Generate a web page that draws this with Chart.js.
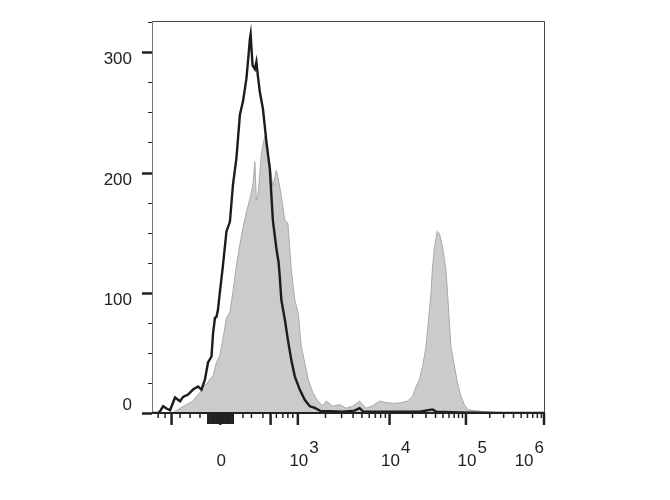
<!DOCTYPE html>
<html lang="en">
<head>
    <meta charset="utf-8">
    <title>Histogram</title>
    <script src="https://cdn.jsdelivr.net/npm/chart.js@4.4.0/dist/chart.umd.min.js"></script>
    <style>
        body { margin: 0; background: #fff; }
    </style>
</head>
<body>
    <canvas id="chart" width="670" height="500"></canvas>
    <script>
        // channels run 0..1024 along the x axis (biexponential display)
        const blackCh = [0, 16, 21, 29, 38, 47, 60, 73, 81, 94, 107, 120, 129, 138, 146, 155, 159, 164, 168, 172,
            177, 185, 194, 203, 211, 220, 229, 237, 246, 250, 255, 257, 262, 268, 272, 276, 281, 289, 298, 307,
            315, 324, 330, 333, 337, 346, 354, 363, 372, 385, 398, 411, 424, 441, 463, 497, 528, 541, 551, 593,
            645, 697, 731, 741, 801, 905, 1024];
        const blackCount = [0, 0, 1.5, 5.6, 3.7, 2.3, 12.9, 9.8, 13.4, 15.4, 19.5, 22, 19.5, 28, 42, 47, 66, 79, 80, 86,
            101, 123, 151, 159, 190, 212, 248, 259, 278, 292, 311, 315, 289, 286, 292, 280, 267, 253, 226, 203,
            160, 137, 125, 113, 94, 78, 61, 44, 30.5, 19.5, 11, 5.6, 4.3, 1.5, 1.5, 1, 2, 4, 1, 1,
            1, 1, 3, 1, 0.5, 0, 0];

        const grayCh = [0, 47, 60, 73, 90, 107, 116, 125, 133, 142, 151, 159, 168, 177, 185, 194, 203, 211, 220, 229,
            237, 246, 255, 263, 268, 272, 276, 281, 285, 289, 294, 298, 302, 307, 315, 324, 333, 341, 346, 354,
            363, 372, 381, 389, 398, 407, 419, 432, 445, 454, 471, 489, 506, 523, 541, 558, 575, 593, 611, 632,
            649, 666, 679, 688, 697, 705, 714, 718, 723, 727, 731, 736, 743, 749, 757, 766, 770, 775, 779, 788,
            796, 805, 814, 822, 840, 866, 892, 1024];
        const grayCount = [0, 0, 1, 4, 7, 10, 14, 17, 22, 24, 28, 31, 42, 48, 62, 79, 84, 101, 123, 140,
            154, 167, 178, 190, 209, 177, 180, 200, 216, 223, 230, 218, 212, 208, 188, 202, 188, 172, 160, 158,
            119, 94, 83, 55, 42, 28, 17, 10, 6, 10, 5.6, 7, 4, 5.6, 10, 4, 6, 10, 8.5, 8,
            8.5, 10, 14, 22, 28, 39, 55, 69, 86, 100, 122, 138, 151, 149, 138, 119, 100, 75, 55, 39,
            25, 14, 7, 3, 2, 1, 0.5, 0];

        const yMax = 326;
        const yTicks = [0, 100, 200, 300];
        const yMinorStep = 25;

        // labelled decades: 0, 10^3 .. 10^6
        const xLabelCh = [178, 380, 619, 818, 1024];
        const xLabelBase = ['0', '10', '10', '10', '10'];
        const xLabelExp = ['', '3', '4', '5', '6'];
        const xMajorCh = [51, 178, 309, 380, 619, 818, 1024];
        const xLinearMinorCh = [16, 34, 73, 99, 125, 146, 150, 154, 159, 163, 167, 172, 175, 181, 185, 189, 193,
            198, 202, 206, 211, 237, 259, 289, 324, 341, 354, 367];
        const xZeroBlock = [146, 211];

        function toPoints(xs, ys) {
            return xs.map((x, i) => ({ x: x, y: ys[i] }));
        }

        const axisPlugin = {
            id: 'axisPlugin',
            afterDatasetsDraw(chart) {
                const ctx = chart.ctx;
                const xs = chart.scales.x;
                const ys = chart.scales.y;
                const a = chart.chartArea;
                ctx.save();

                // frame
                ctx.strokeStyle = '#444';
                ctx.lineWidth = 1;
                ctx.beginPath();
                ctx.moveTo(a.left, a.top + 0.5);
                ctx.lineTo(a.right - 0.5, a.top + 0.5);
                ctx.lineTo(a.right - 0.5, a.bottom);
                ctx.stroke();
                ctx.strokeStyle = '#777';
                ctx.beginPath();
                ctx.moveTo(a.left + 0.5, a.top);
                ctx.lineTo(a.left + 0.5, a.bottom);
                ctx.stroke();
                ctx.strokeStyle = '#222';
                ctx.lineWidth = 2;
                ctx.beginPath();
                ctx.moveTo(a.left, a.bottom);
                ctx.lineTo(a.right, a.bottom);
                ctx.stroke();

                // y ticks
                ctx.strokeStyle = '#222';
                for (let v = 0; v <= yMax; v += yMinorStep) {
                    const y = Math.round(ys.getPixelForValue(v)) + 0.5;
                    const major = yTicks.includes(v);
                    ctx.lineWidth = major ? 2.5 : 1;
                    ctx.beginPath();
                    ctx.moveTo(a.left - (major ? 10 : 4), y);
                    ctx.lineTo(a.left, y);
                    ctx.stroke();
                }
                ctx.fillStyle = '#222';
                ctx.font = '17px "Liberation Sans", Arial, sans-serif';
                ctx.textAlign = 'right';
                yTicks.forEach(v => {
                    const y = ys.getPixelForValue(v);
                    ctx.textBaseline = v === 0 ? 'bottom' : 'top';
                    ctx.fillText(String(v), a.left - 20, v === 0 ? y + 1 : y - 1);
                });

                // x ticks
                const decadeCh = xLabelCh.slice(1);
                const minorCh = xLinearMinorCh.slice();
                for (let d = 0; d < decadeCh.length - 1; d++) {
                    for (let k = 2; k <= 9; k++) {
                        minorCh.push(decadeCh[d] + Math.log10(k) * (decadeCh[d + 1] - decadeCh[d]));
                    }
                }
                minorCh.forEach(c => {
                    const x = xs.getPixelForValue(c);
                    const long = c >= xZeroBlock[0] && c <= xZeroBlock[1];
                    ctx.lineWidth = long ? 2 : 1.5;
                    ctx.beginPath();
                    ctx.moveTo(x, a.bottom);
                    ctx.lineTo(x, a.bottom + (long ? 11 : 5));
                    ctx.stroke();
                });
                ctx.lineWidth = 2.5;
                xMajorCh.forEach(c => {
                    const x = Math.min(xs.getPixelForValue(c), a.right - 1);
                    ctx.beginPath();
                    ctx.moveTo(x, a.bottom);
                    ctx.lineTo(x, a.bottom + 12);
                    ctx.stroke();
                });

                // x labels
                ctx.textBaseline = 'alphabetic';
                const base = a.bottom + 53;
                xLabelCh.forEach((c, i) => {
                    let x = xs.getPixelForValue(c) + 1;
                    ctx.font = '17px "Liberation Sans", Arial, sans-serif';
                    const bw = ctx.measureText(xLabelBase[i]).width;
                    const ew = xLabelExp[i] ? ctx.measureText(xLabelExp[i]).width + 1 : 0;
                    if (x + bw / 2 + ew > a.right) x = a.right - ew - bw / 2 - 1;
                    ctx.textAlign = 'center';
                    ctx.fillText(xLabelBase[i], x, base);
                    if (xLabelExp[i]) {
                        ctx.textAlign = 'left';
                        ctx.fillText(xLabelExp[i], x + bw / 2 + 1, base - 13);
                    }
                });
                ctx.restore();
            }
        };

        const ctx = document.getElementById('chart').getContext('2d');
        const myChart = new Chart(ctx, {
            type: 'line',
            data: {
                datasets: [{
                    label: 'Control',
                    data: toPoints(blackCh, blackCount),
                    borderColor: '#1c1c1c',
                    borderWidth: 2.4,
                    pointRadius: 0,
                    fill: false,
                    order: 0
                }, {
                    label: 'Stained',
                    data: toPoints(grayCh, grayCount),
                    borderColor: '#a9a9a9',
                    backgroundColor: '#cbcbcb',
                    borderWidth: 1,
                    pointRadius: 0,
                    fill: 'origin',
                    order: 1
                }]
            },
            options: {
                responsive: false,
                animation: false,
                devicePixelRatio: 1,
                layout: { padding: { left: 152, right: 125, top: 21, bottom: 87 } },
                plugins: { legend: { display: false }, tooltip: { enabled: false } },
                scales: {
                    x: { type: 'linear', min: 0, max: 1024, display: false },
                    y: { min: 0, max: yMax, display: false }
                }
            },
            plugins: [axisPlugin]
        });
    </script>
</body>
</html>
